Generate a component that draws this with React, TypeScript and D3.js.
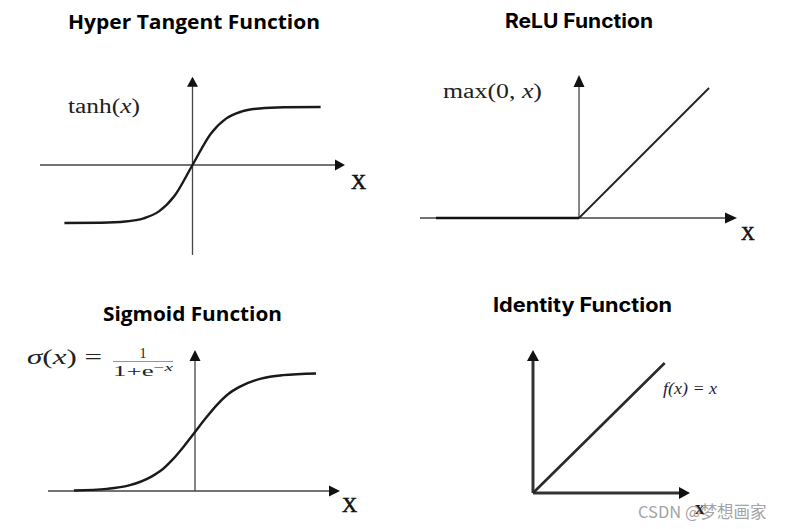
import React from 'react';
import * as d3 from 'd3';

// values
const tanhX = [-4.2, -3, -2.2, -1.6, -1.1, -0.6, 0, 0.6, 1.1, 1.6, 2.2, 3, 4.2];
const tanhY = [-1, -0.995, -0.975, -0.92, -0.8, -0.54, 0, 0.54, 0.8, 0.92, 0.975, 0.995, 1];

const reluX = [-1.1, 0, 1.0];
const reluY = [0, 0, 1.0];

const sigX = [-5.5, -4, -3, -2, -1.5, -1, -0.5, 0, 0.5, 1, 1.5, 2, 3, 4, 5.5];
const sigY = [0.004, 0.018, 0.047, 0.12, 0.18, 0.27, 0.38, 0.5, 0.62, 0.73, 0.82, 0.88, 0.953, 0.982, 0.996];

const idX = [0, 1.015];
const idY = [0, 1.0];

const titles = ['Hyper Tangent Function', 'ReLU Function', 'Sigmoid Function', 'Identity Function'];

const W = 789;
const H = 529;

type Sc = d3.ScaleLinear<number, number>;

const Axes = ({ x, y, hExt, vExt, sw, color, arrowL, arrowW }: any) => {
  const x0 = x(0), y0 = y(0);
  const hx1 = x(hExt[1]);
  const vy1 = y(vExt[1]);
  return (
    <g>
      <line x1={x(hExt[0])} x2={hx1 - arrowL + 1} y1={y0} y2={y0} stroke={color} strokeWidth={sw} />
      <line x1={x0} x2={x0} y1={y(vExt[0])} y2={vy1 + arrowL - 1} stroke={color} strokeWidth={sw} />
      <path d={`M${hx1},${y0} L${hx1 - arrowL},${y0 - arrowW / 2} L${hx1 - arrowL},${y0 + arrowW / 2} Z`} fill="#111" />
      <path d={`M${x0},${vy1} L${x0 - arrowW / 2},${vy1 + arrowL} L${x0 + arrowW / 2},${vy1 + arrowL} Z`} fill="#111" />
    </g>
  );
};

const curvePath = (xs: number[], ys: number[], x: Sc, y: Sc, curve: any) =>
  d3.line<number>()
    .x((_, i) => x(xs[i]))
    .y((_, i) => y(ys[i]))
    .curve(curve)(xs) || '';

export default function App() {
  // tanh panel
  const tx = d3.scaleLinear().domain([-5, 5]).range([40, 345]);
  const ty = d3.scaleLinear().domain([-1, 1]).range([223, 107]);
  // relu panel
  const rx = d3.scaleLinear().domain([-1.223, 1.215]).range([420, 737]);
  const ry = d3.scaleLinear().domain([0, 1]).range([218, 88]);
  // sigmoid panel
  const sx = d3.scaleLinear().domain([-6.68, 6.59]).range([48, 340]);
  const sy = d3.scaleLinear().domain([0, 1]).range([491, 373]);
  // identity panel
  const ix = d3.scaleLinear().domain([0, 1.21]).range([533, 690]);
  const iy = d3.scaleLinear().domain([0, 1]).range([493, 363]);

  const titleStyle = { fontWeight: 700, fontSize: 20, fill: '#000' } as const;
  const serif = '"Liberation Serif", "DejaVu Serif", serif';
  const xLabel = { fontFamily: serif, fill: '#111', stroke: '#111', strokeWidth: 0.6 } as const;

  return (
    <svg width={W} height={H} style={{ position: 'absolute', left: 0, top: 0, background: '#fff' }}>
      <rect width={W} height={H} fill="#fff" />

      {/* titles */}
      <text x={68} y={29} textLength={252} lengthAdjust="spacingAndGlyphs" fontFamily='"Open Sans", sans-serif' {...titleStyle}>{titles[0]}</text>
      <text x={505} y={28} textLength={148} lengthAdjust="spacingAndGlyphs" fontFamily='Inter, "Open Sans", sans-serif' {...titleStyle}>{titles[1]}</text>
      <text x={103} y={321} textLength={179} lengthAdjust="spacingAndGlyphs" fontFamily='"Open Sans", sans-serif' {...titleStyle}>{titles[2]}</text>
      <text x={493} y={312} textLength={179} lengthAdjust="spacingAndGlyphs" fontFamily='Inter, "Open Sans", sans-serif' {...titleStyle}>{titles[3]}</text>

      {/* tanh */}
      <Axes x={tx} y={ty} hExt={[-5, 5]} vExt={[-1.55, 1.52]} sw={1.3} color="#444" arrowL={10} arrowW={11} />
      <path d={curvePath(tanhX, tanhY, tx, ty, d3.curveMonotoneX)} fill="none" stroke="#1a1a1a" strokeWidth={2.4} />
      <text x={68} y={113} fontFamily={serif} fontSize={20} fill="#222" textLength={72} lengthAdjust="spacingAndGlyphs">
        tanh(<tspan fontStyle="italic">x</tspan>)
      </text>
      <text x={351} y={189} fontSize={21} {...xLabel}>X</text>

      {/* relu */}
      <Axes x={rx} y={ry} hExt={[-1.223, 1.215]} vExt={[0, 1.1]} sw={1.3} color="#444" arrowL={12} arrowW={11} />
      <path d={curvePath(reluX.slice(0, 2), reluY.slice(0, 2), rx, ry, d3.curveLinear)} fill="none" stroke="#111" strokeWidth={2.6} />
      <path d={curvePath(reluX.slice(1), reluY.slice(1), rx, ry, d3.curveLinear)} fill="none" stroke="#222" strokeWidth={1.8} />
      <text x={443} y={98} fontFamily={serif} fontSize={20} fill="#222" textLength={99} lengthAdjust="spacingAndGlyphs">
        max(0, <tspan fontStyle="italic">x</tspan>)
      </text>
      <text x={741} y={240} fontSize={19} {...xLabel}>X</text>

      {/* sigmoid */}
      <Axes x={sx} y={sy} hExt={[-6.68, 6.59]} vExt={[0, 1.195]} sw={1.3} color="#444" arrowL={11} arrowW={11} />
      <path d={curvePath(sigX, sigY, sx, sy, d3.curveMonotoneX)} fill="none" stroke="#1a1a1a" strokeWidth={2.4} />
      <text x={27} y={364} fontFamily={serif} fontSize={22} fill="#222" textLength={75} lengthAdjust="spacingAndGlyphs">
        <tspan fontStyle="italic">σ</tspan>(<tspan fontStyle="italic">x</tspan>) =
      </text>
      <text x={143} y={358} fontFamily={serif} fontSize={14} fill="#222" textAnchor="middle">1</text>
      <line x1={113} x2={173} y1={361.5} y2={361.5} stroke="#666" strokeWidth={0.7} />
      <text x={113} y={376} fontFamily={serif} fontSize={14} fill="#222" textLength={60} lengthAdjust="spacingAndGlyphs">
        1+e<tspan fontSize={10} dy={-5}>−<tspan fontStyle="italic">x</tspan></tspan>
      </text>
      <text x={342} y={512} fontSize={21} {...xLabel}>X</text>

      {/* identity */}
      <Axes x={ix} y={iy} hExt={[0, 1.21]} vExt={[0, 1.1]} sw={3} color="#333" arrowL={11} arrowW={12} />
      <path d={curvePath(idX, idY, ix, iy, d3.curveLinear)} fill="none" stroke="#2a2a2a" strokeWidth={2.6} />
      <text x={663} y={394} fontFamily={serif} fontSize={16} fontStyle="italic" fill="#1e1e38" textLength={54} lengthAdjust="spacingAndGlyphs">
        f(x) = x
      </text>
      <text x={695} y={514} fontFamily={serif} fontSize={19} fontWeight={700} fill="#222">x</text>

      {/* watermark */}
      <text x={638} y={518} fontFamily='"Noto Sans CJK SC", "Noto Sans", sans-serif' fontSize={16.5} fill="#9a9a9a" opacity={0.9}>
        CSDN @梦想画家
      </text>
    </svg>
  );
}
